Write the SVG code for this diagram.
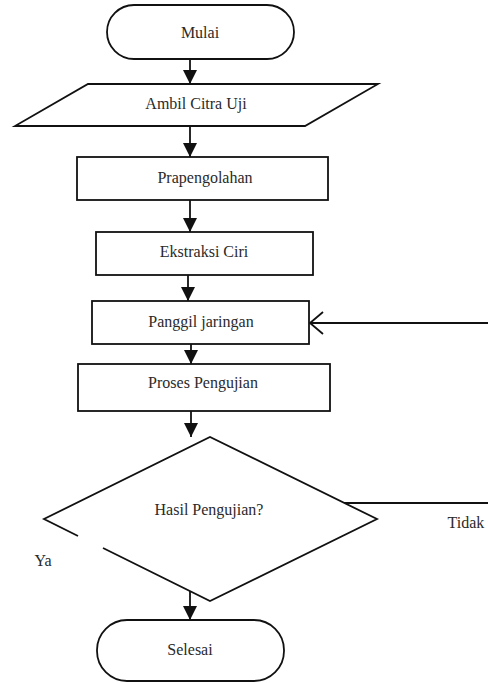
<svg xmlns="http://www.w3.org/2000/svg" width="488" height="683" viewBox="0 0 488 683">
<style>
.shape{fill:#fff;stroke:#111;stroke-width:1.8}
.line{fill:none;stroke:#111;stroke-width:1.8}
.lbl{font-family:"Liberation Serif","Times New Roman","DejaVu Serif",serif;font-size:16px;fill:#2a2a2a;text-anchor:middle}
</style>
<defs>
<marker id="fill" markerUnits="userSpaceOnUse" markerWidth="14" markerHeight="14" viewBox="0 0 12 12" refX="12" refY="6" orient="auto">
<path d="M0,0 L12,6 L0,12 Z" fill="#111"/>
</marker>
</defs>
<rect width="488" height="683" fill="#fff"/>
<g id="connectors">
<line class="line" x1="190" y1="59" x2="190" y2="84" marker-end="url(#fill)"/>
<line class="line" x1="190" y1="126" x2="190" y2="157" marker-end="url(#fill)"/>
<line class="line" x1="190" y1="200" x2="190" y2="232" marker-end="url(#fill)"/>
<line class="line" x1="188" y1="275" x2="188" y2="301" marker-end="url(#fill)"/>
<line class="line" x1="191" y1="344" x2="191" y2="364" marker-end="url(#fill)"/>
<line class="line" x1="191" y1="411" x2="191" y2="437" marker-end="url(#fill)"/>
<line class="line" x1="190" y1="591" x2="190" y2="620" marker-end="url(#fill)"/>
<path class="line" d="M343,503 H492 V323 H310"/>
<path class="line" d="M323,312 L310,323 L323,334" stroke-width="2"/>
<text class="lbl" x="43" y="566" font-family="Liberation Serif, serif">Ya</text>
<text class="lbl" x="466" y="528" font-family="Liberation Serif, serif">Tidak</text>
</g>
<g id="mulai">
<rect class="shape" x="107" y="5" width="187" height="54" rx="27"/>
<text class="lbl" x="200" y="38" font-family="Liberation Serif, serif">Mulai</text>
</g>
<g id="ambil">
<polygon class="shape" points="88,84 378,84 305,126 15,126"/>
<text class="lbl" x="196" y="109" font-family="Liberation Serif, serif">Ambil Citra Uji</text>
</g>
<g id="prapengolahan">
<rect class="shape" x="77" y="157" width="251" height="43"/>
<text class="lbl" x="205" y="183" font-family="Liberation Serif, serif">Prapengolahan</text>
</g>
<g id="ekstraksi">
<rect class="shape" x="96" y="232" width="217" height="43"/>
<text class="lbl" x="204" y="257" font-family="Liberation Serif, serif">Ekstraksi Ciri</text>
</g>
<g id="panggil">
<rect class="shape" x="92" y="301" width="217" height="43"/>
<text class="lbl" x="201" y="327" font-family="Liberation Serif, serif">Panggil jaringan</text>
</g>
<g id="proses">
<rect class="shape" x="78" y="364" width="252" height="47"/>
<text class="lbl" x="203" y="388" font-family="Liberation Serif, serif">Proses Pengujian</text>
</g>
<g id="hasil">
<path class="shape" d="M78,536 L44,519 L210,437 L377,519 L210,601 L103,548"/>
<text class="lbl" x="209" y="515" font-family="Liberation Serif, serif">Hasil Pengujian?</text>
</g>
<g id="selesai">
<rect class="shape" x="97" y="620" width="187" height="61" rx="30"/>
<text class="lbl" x="190" y="655" font-family="Liberation Serif, serif">Selesai</text>
</g>
</svg>
